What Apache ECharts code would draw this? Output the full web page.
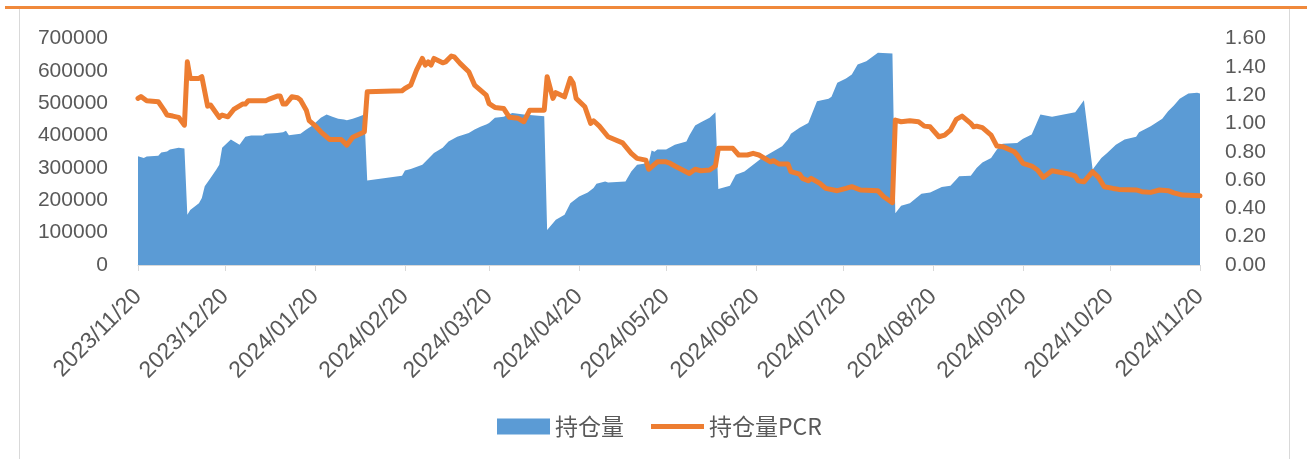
<!DOCTYPE html>
<html>
<head>
<meta charset="utf-8">
<script src="https://cdn.jsdelivr.net/npm/echarts@6/dist/echarts.min.js"></script>
<style>
html, body { margin: 0; padding: 0; background: #fff; }
#main { width: 1307px; height: 459px; }
</style>
</head>
<body>
<div id="main"></div>
<script>
'use strict';

// 持仓量（左轴）
var oiDates = ['2023-11-20', '2023-11-22', '2023-11-23', '2023-11-27', '2023-11-28', '2023-11-30', '2023-12-01', '2023-12-04', '2023-12-06',
    '2023-12-07', '2023-12-08', '2023-12-11', '2023-12-12', '2023-12-13', '2023-12-15', '2023-12-17', '2023-12-18', '2023-12-19',
    '2023-12-22', '2023-12-25', '2023-12-27', '2023-12-29', '2024-01-02', '2024-01-03', '2024-01-07', '2024-01-09', '2024-01-10',
    '2024-01-11', '2024-01-15', '2024-01-17', '2024-01-19', '2024-01-22', '2024-01-24', '2024-01-26', '2024-01-28', '2024-01-30',
    '2024-01-31', '2024-02-02', '2024-02-04', '2024-02-06', '2024-02-07', '2024-02-19', '2024-02-20', '2024-02-22', '2024-02-26',
    '2024-03-01', '2024-03-04', '2024-03-06', '2024-03-09', '2024-03-13', '2024-03-15', '2024-03-17', '2024-03-19', '2024-03-20',
    '2024-03-22', '2024-03-25', '2024-03-28', '2024-04-01', '2024-04-08', '2024-04-09', '2024-04-12', '2024-04-15', '2024-04-17',
    '2024-04-20', '2024-04-23', '2024-04-25', '2024-04-26', '2024-04-29', '2024-04-30', '2024-05-06', '2024-05-08', '2024-05-10',
    '2024-05-14', '2024-05-15', '2024-05-16', '2024-05-17', '2024-05-20', '2024-05-23', '2024-05-27', '2024-05-28', '2024-05-30',
    '2024-06-01', '2024-06-04', '2024-06-06', '2024-06-07', '2024-06-11', '2024-06-13', '2024-06-16', '2024-06-19', '2024-06-22',
    '2024-06-25', '2024-06-29', '2024-07-01', '2024-07-02', '2024-07-05', '2024-07-08', '2024-07-11', '2024-07-15', '2024-07-16',
    '2024-07-18', '2024-07-21', '2024-07-23', '2024-07-25', '2024-07-28', '2024-08-01', '2024-08-06', '2024-08-07', '2024-08-09',
    '2024-08-12', '2024-08-16', '2024-08-19', '2024-08-23', '2024-08-26', '2024-08-28', '2024-08-29', '2024-09-02', '2024-09-04',
    '2024-09-06', '2024-09-09', '2024-09-11', '2024-09-13', '2024-09-18', '2024-09-20', '2024-09-23', '2024-09-26', '2024-09-30',
    '2024-10-08', '2024-10-11', '2024-10-14', '2024-10-17', '2024-10-19', '2024-10-22', '2024-10-25', '2024-10-29', '2024-10-30',
    '2024-11-03', '2024-11-07', '2024-11-09', '2024-11-11', '2024-11-13', '2024-11-16', '2024-11-19', '2024-11-20'];
var oiValues = [336000, 331000, 335000, 338000, 348000, 351000, 357000, 362000, 360000,
    155000, 170000, 191000, 207000, 243000, 269000, 295000, 310000, 362000,
    388000, 372000, 396000, 400000, 400000, 406000, 408000, 410000, 415000,
    401000, 406000, 419000, 430000, 455000, 465000, 458000, 452000, 450000,
    447000, 452000, 458000, 465000, 261000, 276000, 292000, 297000, 310000,
    346000, 362000, 382000, 396000, 408000, 419000, 427000, 434000, 439000,
    455000, 458000, 470000, 465000, 460000, 108000, 140000, 155000, 191000,
    212000, 224000, 238000, 251000, 258000, 255000, 258000, 289000, 310000,
    315000, 354000, 350000, 357000, 357000, 372000, 382000, 400000, 431000,
    441000, 455000, 472000, 235000, 245000, 279000, 289000, 310000, 331000,
    346000, 367000, 388000, 406000, 424000, 439000, 506000, 514000, 520000,
    563000, 576000, 589000, 620000, 630000, 656000, 654000, 160000, 183000,
    191000, 220000, 224000, 241000, 245000, 264000, 274000, 276000, 300000,
    317000, 331000, 357000, 375000, 377000, 390000, 403000, 465000, 458000,
    472000, 509000, 295000, 331000, 346000, 372000, 388000, 396000, 410000,
    429000, 452000, 475000, 493000, 514000, 530000, 532000, 530000];

// 持仓量PCR（右轴）
var pcrDates = ['2023-11-20', '2023-11-21', '2023-11-23', '2023-11-27', '2023-11-29', '2023-11-30', '2023-12-02', '2023-12-04', '2023-12-06',
    '2023-12-07', '2023-12-08', '2023-12-11', '2023-12-12', '2023-12-14', '2023-12-15', '2023-12-18', '2023-12-19', '2023-12-21',
    '2023-12-23', '2023-12-26', '2023-12-27', '2023-12-28', '2024-01-03', '2024-01-04', '2024-01-07', '2024-01-08', '2024-01-09',
    '2024-01-10', '2024-01-12', '2024-01-14', '2024-01-15', '2024-01-17', '2024-01-18', '2024-01-20', '2024-01-22', '2024-01-25',
    '2024-01-29', '2024-01-31', '2024-02-02', '2024-02-05', '2024-02-06', '2024-02-07', '2024-02-19', '2024-02-20', '2024-02-22',
    '2024-02-24', '2024-02-26', '2024-02-27', '2024-02-28', '2024-02-29', '2024-03-01', '2024-03-04', '2024-03-05', '2024-03-07',
    '2024-03-08', '2024-03-10', '2024-03-13', '2024-03-15', '2024-03-17', '2024-03-19', '2024-03-20', '2024-03-22', '2024-03-25',
    '2024-03-27', '2024-03-30', '2024-04-01', '2024-04-03', '2024-04-08', '2024-04-09', '2024-04-11', '2024-04-12', '2024-04-15',
    '2024-04-17', '2024-04-18', '2024-04-19', '2024-04-22', '2024-04-24', '2024-04-25', '2024-04-27', '2024-04-30', '2024-05-05',
    '2024-05-08', '2024-05-10', '2024-05-13', '2024-05-14', '2024-05-17', '2024-05-20', '2024-05-21', '2024-05-23', '2024-05-28',
    '2024-05-30', '2024-06-01', '2024-06-04', '2024-06-06', '2024-06-07', '2024-06-12', '2024-06-14', '2024-06-17', '2024-06-19',
    '2024-06-21', '2024-06-25', '2024-06-26', '2024-06-28', '2024-07-01', '2024-07-02', '2024-07-05', '2024-07-06', '2024-07-08',
    '2024-07-09', '2024-07-12', '2024-07-14', '2024-07-18', '2024-07-21', '2024-07-23', '2024-07-26', '2024-08-01', '2024-08-03',
    '2024-08-06', '2024-08-07', '2024-08-09', '2024-08-12', '2024-08-15', '2024-08-17', '2024-08-19', '2024-08-22', '2024-08-24',
    '2024-08-26', '2024-08-28', '2024-08-30', '2024-09-02', '2024-09-03', '2024-09-04', '2024-09-06', '2024-09-09', '2024-09-11',
    '2024-09-13', '2024-09-17', '2024-09-18', '2024-09-20', '2024-09-23', '2024-09-25', '2024-09-27', '2024-09-30', '2024-10-06',
    '2024-10-08', '2024-10-09', '2024-10-11', '2024-10-14', '2024-10-16', '2024-10-18', '2024-10-21', '2024-10-23', '2024-10-29',
    '2024-10-31', '2024-11-03', '2024-11-06', '2024-11-09', '2024-11-11', '2024-11-14', '2024-11-20'];
var pcrValues = [1.177, 1.19, 1.16, 1.153, 1.094, 1.059, 1.052, 1.043, 0.988,
    1.435, 1.318, 1.318, 1.33, 1.122, 1.13, 1.043, 1.059, 1.047,
    1.099, 1.137, 1.137, 1.16, 1.16, 1.17, 1.193, 1.193, 1.137,
    1.137, 1.188, 1.181, 1.165, 1.094, 1.02, 0.985, 0.941, 0.887,
    0.887, 0.847, 0.902, 0.93, 0.941, 1.223, 1.231, 1.247, 1.271,
    1.377, 1.459, 1.412, 1.435, 1.412, 1.459, 1.428, 1.435, 1.476,
    1.47, 1.424, 1.365, 1.271, 1.235, 1.2, 1.14, 1.113, 1.106,
    1.043, 1.036, 1.012, 1.094, 1.094, 1.33, 1.177, 1.217, 1.188,
    1.318, 1.283, 1.177, 1.118, 1.0, 1.019, 0.981, 0.906, 0.863,
    0.789, 0.753, 0.741, 0.676, 0.729, 0.729, 0.722, 0.699, 0.647,
    0.676, 0.666, 0.671, 0.699, 0.824, 0.824, 0.777, 0.777, 0.789,
    0.777, 0.729, 0.737, 0.713, 0.713, 0.659, 0.642, 0.612, 0.595,
    0.612, 0.577, 0.541, 0.525, 0.541, 0.553, 0.53, 0.525, 0.482,
    0.44, 1.024, 1.012, 1.019, 1.012, 0.981, 0.976, 0.906, 0.918,
    0.953, 1.029, 1.052, 1.0, 0.976, 0.981, 0.97, 0.918, 0.84,
    0.836, 0.80, 0.777, 0.718, 0.699, 0.671, 0.619, 0.666, 0.642,
    0.628, 0.595, 0.588, 0.659, 0.619, 0.553, 0.541, 0.534, 0.53,
    0.518, 0.513, 0.53, 0.525, 0.51, 0.494, 0.489];

// 横轴刻度（每月20日）
var tickDates = ['2023-11-20', '2023-12-20', '2024-01-20', '2024-02-20', '2024-03-20', '2024-04-20', '2024-05-20',
    '2024-06-20', '2024-07-20', '2024-08-20', '2024-09-20', '2024-10-20', '2024-11-20'];

var toTime = function (d) { return +echarts.time.parse(d); };
var pairs = function (xs, ys) {
    return xs.map(function (d, i) { return [toTime(d), ys[i]]; });
};
var tickValues = tickDates.map(toTime);

// 图例里的折线图标：上下各留一点空白，中间一条粗线
var lineIcon = 'path://M0,0h0.1v0.1h-0.1z M0,5.5h53v5h-53z M0,15.9h0.1v0.1h-0.1z';

var chart = echarts.init(document.getElementById('main'));

var option = {
    animation: false,
    backgroundColor: '#fff',
    textStyle: {
        fontFamily: '"Noto Sans CJK SC", "Liberation Sans", sans-serif'
    },
    graphic: [
        { type: 'line', shape: { x1: 5, y1: 7.5, x2: 1307, y2: 7.5 }, style: { stroke: '#f0893b', lineWidth: 3 } },
        { type: 'line', shape: { x1: 19.5, y1: 9, x2: 19.5, y2: 459 }, style: { stroke: '#d9d9d9', lineWidth: 1 } },
        { type: 'line', shape: { x1: 1289.5, y1: 9, x2: 1289.5, y2: 459 }, style: { stroke: '#d9d9d9', lineWidth: 1 } }
    ],
    legend: {
        left: 497,
        top: 415,
        padding: 0,
        itemGap: 27,
        itemWidth: 53,
        itemHeight: 16,
        textStyle: {
            color: '#595959',
            fontSize: 23,
            fontFamily: '"Noto Sans CJK SC", sans-serif'
        },
        data: [
            { name: '持仓量', icon: 'rect' },
            { name: '持仓量PCR', icon: lineIcon, itemStyle: { color: '#ed7d31' } }
        ]
    },
    grid: {
        left: 138,
        right: 107,
        top: 38.5,
        bottom: 194,
        containLabel: false
    },
    xAxis: {
        type: 'value',
        min: tickValues[0],
        max: tickValues[tickValues.length - 1],
        axisLine: { show: true, lineStyle: { color: '#d9d9d9', width: 1 } },
        axisTick: {
            show: true,
            customValues: tickValues,
            length: 6,
            lineStyle: { color: '#d9d9d9' }
        },
        axisLabel: {
            customValues: tickValues,
            rotate: 45,
            margin: 28,
            color: '#595959',
            fontSize: 23,
            fontFamily: '"Liberation Sans", sans-serif',
            formatter: function (v) {
                return echarts.time.format(v, '{yyyy}/{MM}/{dd}', false);
            }
        },
        splitLine: { show: false }
    },
    yAxis: [{
        type: 'value',
        min: 0,
        max: 700000,
        interval: 100000,
        axisLine: { show: false },
        axisTick: { show: false },
        splitLine: { show: false },
        axisLabel: {
            margin: 30,
            color: '#595959',
            fontSize: 21,
            fontFamily: '"Liberation Sans", sans-serif',
            formatter: function (v) { return String(v); }
        }
    }, {
        type: 'value',
        min: 0,
        max: 1.6,
        interval: 0.2,
        position: 'right',
        axisLine: { show: false },
        axisTick: { show: false },
        splitLine: { show: false },
        axisLabel: {
            margin: 25,
            color: '#595959',
            fontSize: 21,
            fontFamily: '"Liberation Sans", sans-serif',
            formatter: function (v) { return v.toFixed(2); }
        }
    }],
    series: [{
        name: '持仓量',
        type: 'line',
        yAxisIndex: 0,
        symbol: 'none',
        itemStyle: { color: '#5b9bd5' },
        lineStyle: { width: 0, color: '#5b9bd5' },
        areaStyle: { color: '#5b9bd5', opacity: 1 },
        data: pairs(oiDates, oiValues)
    }, {
        name: '持仓量PCR',
        type: 'line',
        yAxisIndex: 1,
        symbol: 'none',
        itemStyle: { color: '#ed7d31' },
        lineStyle: { width: 5, color: '#ed7d31', join: 'round', cap: 'round' },
        data: pairs(pcrDates, pcrValues)
    }]
};

chart.setOption(option);
</script>
</body>
</html>
